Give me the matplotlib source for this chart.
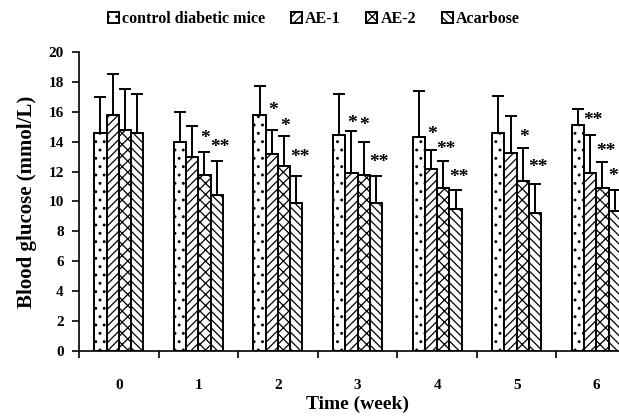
import numpy as np
import matplotlib
matplotlib.use("Agg")
from matplotlib import pyplot as plt

weeks = ["0", "1", "2", "3", "4", "5", "6"]
groups = ["control diabetic mice", "AE-1", "AE-2", "Acarbose"]

control = [14.6, 14.0, 15.8, 14.45, 14.3, 14.55, 15.1]
ae1 = [15.8, 12.95, 13.2, 11.9, 12.15, 13.25, 11.9]
ae2 = [14.8, 11.75, 12.35, 11.75, 10.9, 11.4, 10.9]
acarbose = [14.6, 10.4, 9.9, 9.9, 9.5, 9.25, 9.35]

control_sd = [2.4, 1.95, 1.95, 2.7, 3.1, 2.5, 1.1]
ae1_sd = [2.75, 2.1, 1.6, 2.8, 1.3, 2.45, 2.55]
ae2_sd = [2.7, 1.55, 2.0, 2.2, 1.8, 2.2, 1.75]
acarbose_sd = [2.6, 2.3, 1.8, 1.8, 1.3, 1.9, 1.45]

# significance marks: (week, group index, label, y)
stars = [
    (1, 2, "*", 14.2), (1, 3, "**", 13.6),
    (2, 1, "*", 16.05), (2, 2, "*", 15.0), (2, 3, "**", 12.95),
    (3, 1, "*", 15.2), (3, 2, "*", 15.05), (3, 3, "**", 12.6),
    (4, 1, "*", 14.5), (4, 2, "**", 13.5), (4, 3, "**", 11.6),
    (5, 2, "*", 14.3), (5, 3, "**", 12.3),
    (6, 1, "**", 15.4), (6, 2, "**", 13.35), (6, 3, "**", 11.65),
]

plt.rcParams["font.family"] = "Liberation Serif"
plt.rcParams["font.weight"] = "bold"
plt.rcParams["hatch.linewidth"] = 0.9

fig = plt.figure(figsize=(6.19, 4.18), dpi=100)
ax = fig.add_axes([0.1276, 0.160, 0.900, 0.716])

values = [control, ae1, ae2, acarbose]
errs = [control_sd, ae1_sd, ae2_sd, acarbose_sd]
hatches = ["..", "////", "xxx", "\\\\\\\\"]
x = np.arange(len(weeks))
w = 0.154
offsets = (np.arange(4) - 1.5) * w

for i in range(4):
    ax.bar(x + offsets[i], values[i], w, color="white", edgecolor="black",
           linewidth=1.4, hatch=hatches[i], label=groups[i], zorder=2)
    ax.errorbar(x + offsets[i], values[i], yerr=[np.zeros(7), errs[i]],
                fmt="none", ecolor="black", elinewidth=1.4, capsize=4,
                capthick=1.4, zorder=3)

for wk, g, lab, yy in stars:
    dx = 0.01 if lab == "*" else 0.04
    ax.text(wk + offsets[g] + dx, yy, lab, ha="center", va="center",
            fontsize=14, fontweight="bold", zorder=4)

ax.set_xlim(-0.48, 6.5)
ax.set_ylim(0, 20)
ax.set_yticks(range(0, 21, 2))
ax.set_xticks(x)
ax.set_xticklabels(weeks)
ax.set_xticks(np.arange(-0.5, 7, 1), minor=True)
ax.tick_params(axis="x", which="major", length=0, pad=20, labelsize=11)
ax.tick_params(axis="x", which="minor", length=5, width=1.2, direction="out")
ax.tick_params(axis="y", length=5, width=1.2, direction="out", labelsize=11, pad=6)
for lab in ax.get_xticklabels() + ax.get_yticklabels():
    lab.set_fontweight("bold")

ax.spines["top"].set_visible(False)
ax.spines["right"].set_visible(False)
ax.spines["left"].set_linewidth(1.2)
ax.spines["bottom"].set_linewidth(1.2)

ax.set_ylabel("Blood glucose (mmol/L)", fontsize=15, fontweight="bold", labelpad=8)
ax.set_xlabel("Time (week)", fontsize=14, fontweight="bold", labelpad=3)

fig.legend(loc="center", bbox_to_anchor=(0.507, 0.955), ncol=4, frameon=False,
           handlelength=0.7, handleheight=0.7, handletextpad=0.2,
           columnspacing=1.6, prop={"weight": "bold", "size": 11.5})

fig.savefig("out.png", dpi=100)
